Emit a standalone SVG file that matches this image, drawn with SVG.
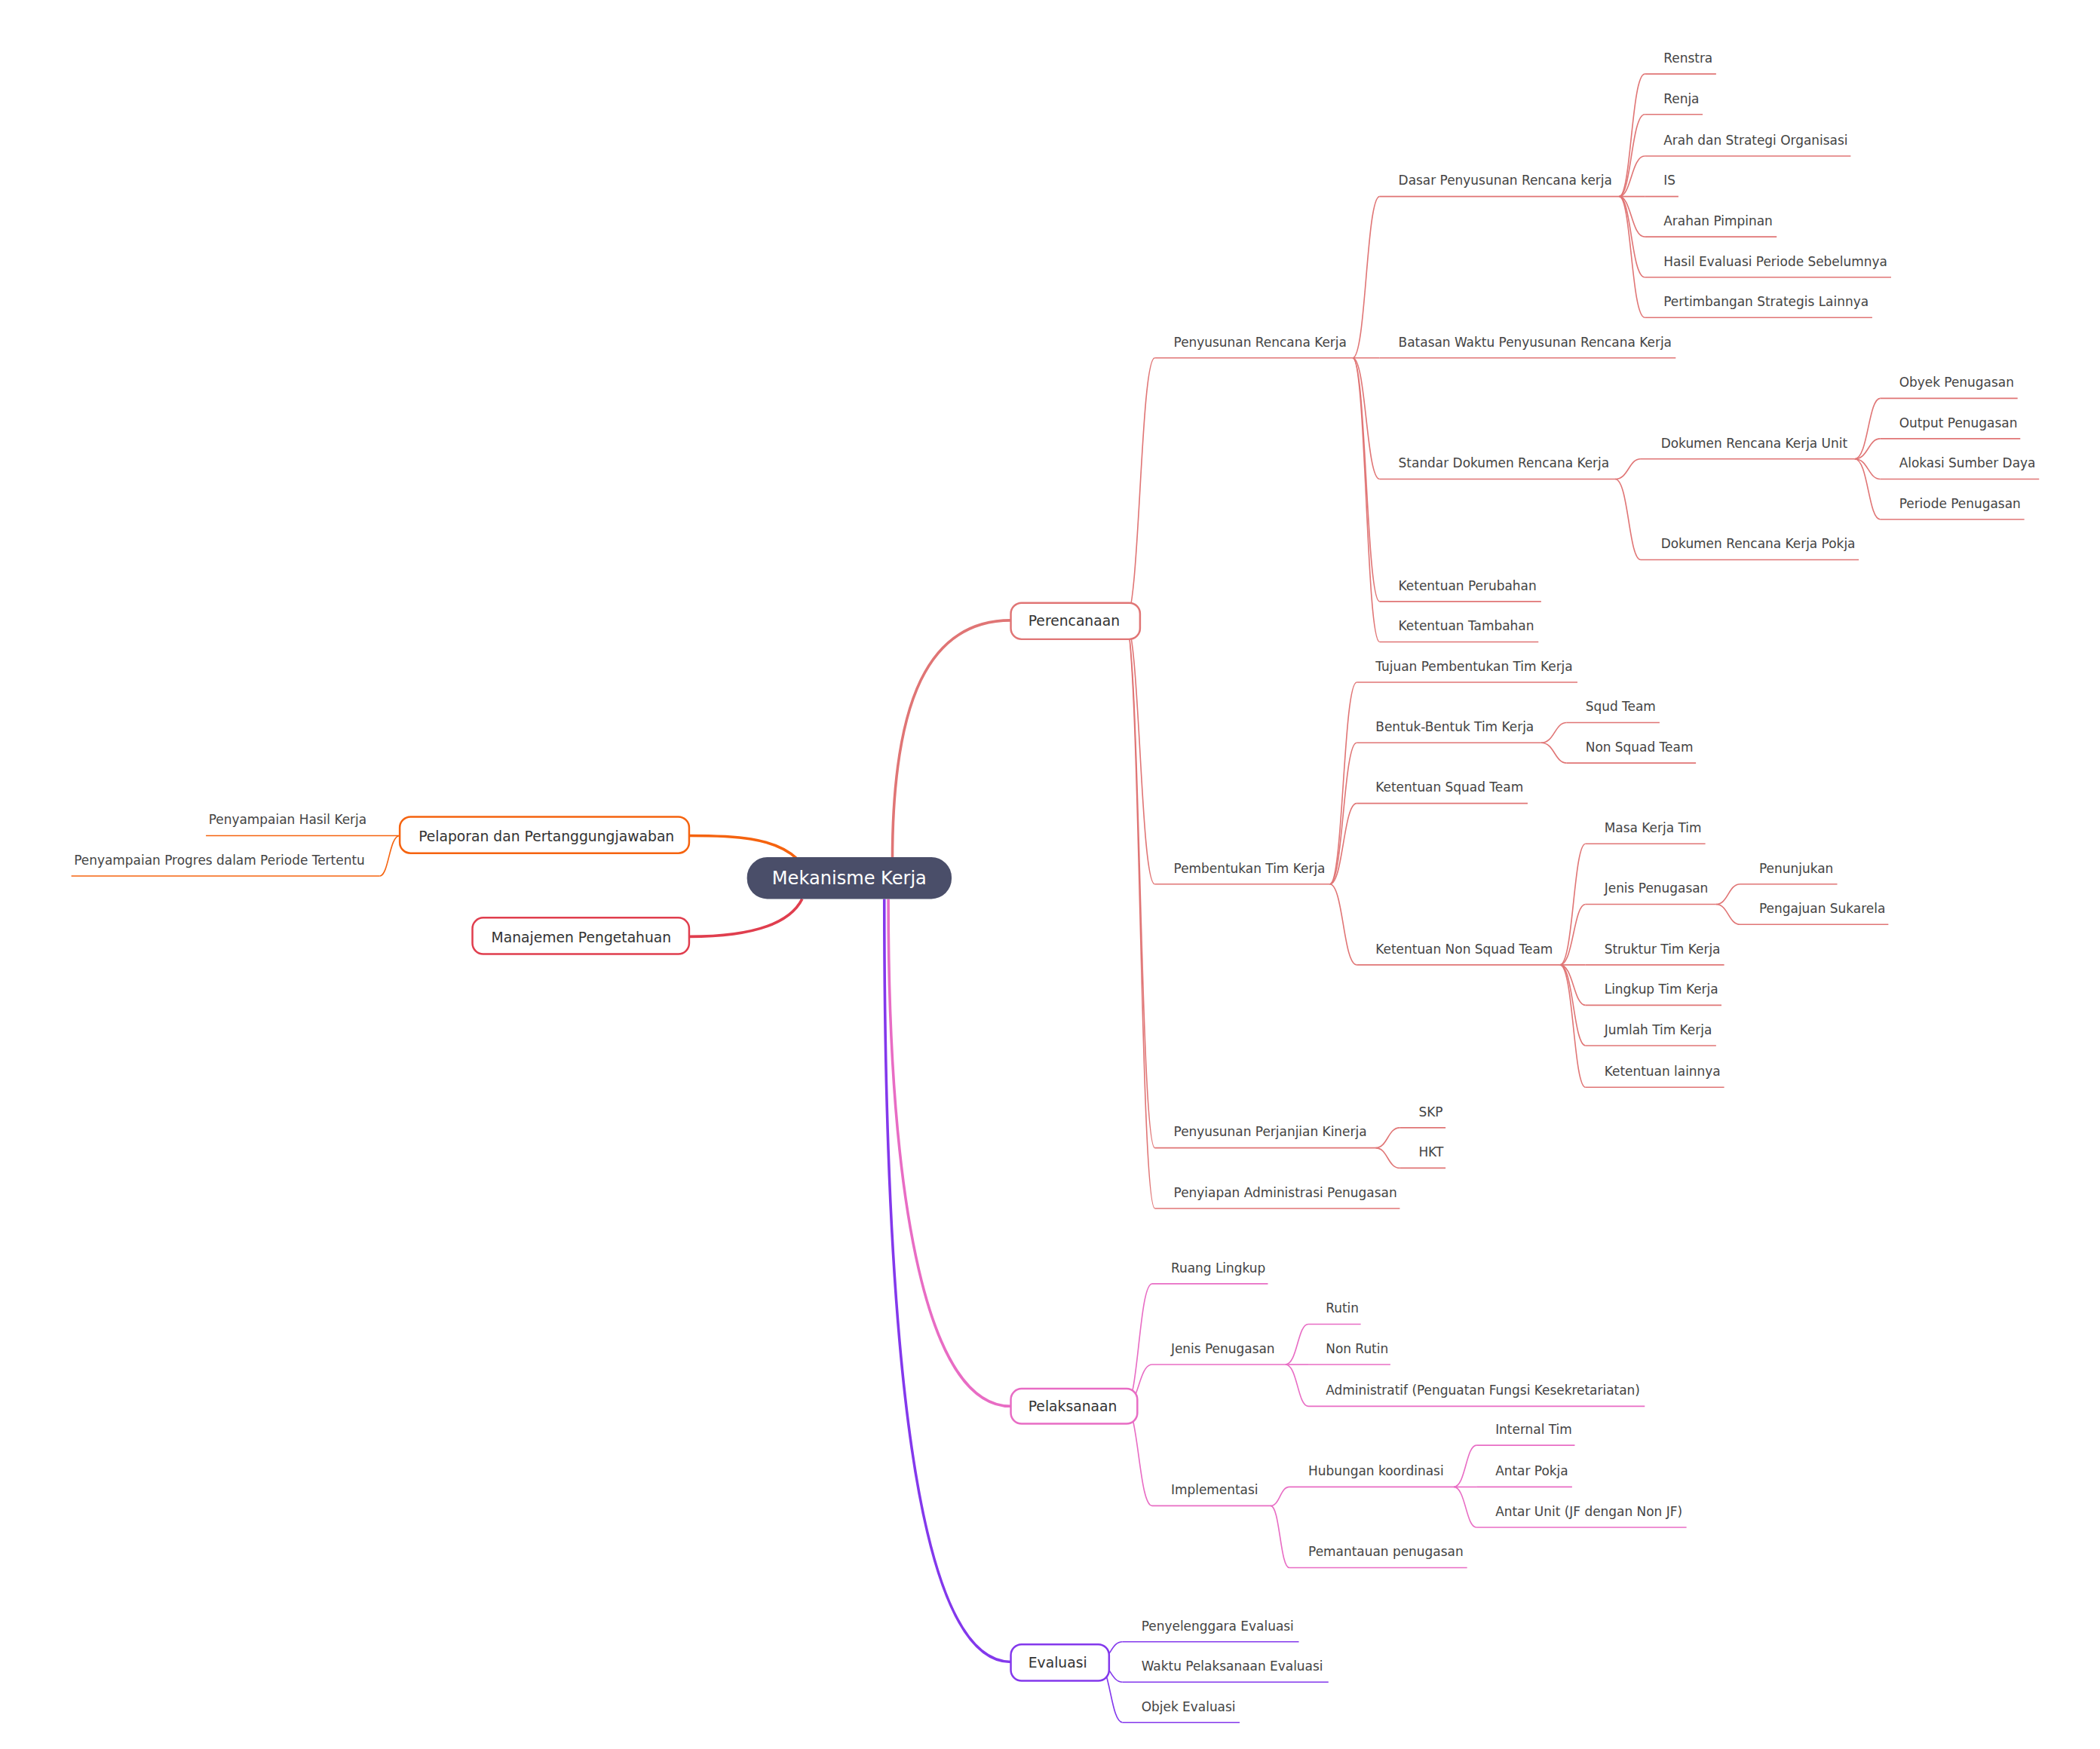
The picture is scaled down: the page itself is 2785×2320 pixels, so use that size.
<svg xmlns="http://www.w3.org/2000/svg" width="2785" height="2320" viewBox="0 0 2785 2320">
<style>
text{font-family:"DejaVu Sans","Liberation Sans",sans-serif;fill:#444;font-size:9.5px}
.nt{font-size:10.5px;fill:#333}
.ct{font-size:13.5px;fill:#fff}
path,line{fill:none}
.p{stroke:#e07575;stroke-width:0.9}
.k{stroke:#e86cc4;stroke-width:0.9}
.v{stroke:#8338ec;stroke-width:0.9}
.o{stroke:#f5630f;stroke-width:0.9}
.P{stroke:#e07575;stroke-width:2}
.K{stroke:#e86cc4;stroke-width:2}
.V{stroke:#8338ec;stroke-width:2}
.O{stroke:#f5630f;stroke-width:2}
.R{stroke:#e03e4e;stroke-width:2}
.nb{fill:#fff;stroke-width:1.4}
</style>
<rect width="2785" height="2320" fill="#fff"/>
<g transform="scale(1.785)">
<g id="connectors">
<path class="P" d="M663,640 C663,520 690,461 751,461"/>
<path class="K" d="M660,668 C660,900 690,1045 751,1045"/>
<path class="V" d="M657,668 C657,1000 680,1235 751,1235"/>
<path class="O" d="M592,638 C575,622 545,621 512,621"/>
<path class="R" d="M596,668 C585,690 550,696 512,696"/>
<path class="p" d="M836,461 C847,461 847,266 858,266"/>
<path class="p" d="M836,461 C847,461 847,657 858,657"/>
<path class="p" d="M836,461 C847,461 847,853 858,853"/>
<path class="p" d="M836,461 C847,461 847,898 858,898"/>
<path class="p" d="M1005,266 C1015,266 1015,146 1025,146"/>
<path class="p" d="M1005,266 L1025,266"/>
<path class="p" d="M1005,266 C1015,266 1015,356 1025,356"/>
<path class="p" d="M1005,266 C1015,266 1015,447 1025,447"/>
<path class="p" d="M1005,266 C1015,266 1015,477 1025,477"/>
<path class="p" d="M1203,146 C1212,146 1212,55 1222,55"/>
<path class="p" d="M1203,146 C1212,146 1212,85 1222,85"/>
<path class="p" d="M1203,146 C1212,146 1212,116 1222,116"/>
<path class="p" d="M1203,146 L1222,146"/>
<path class="p" d="M1203,146 C1212,146 1212,176 1222,176"/>
<path class="p" d="M1203,146 C1212,146 1212,206 1222,206"/>
<path class="p" d="M1203,146 C1212,146 1212,236 1222,236"/>
<path class="p" d="M1200,356 C1210,356 1210,341 1219,341"/>
<path class="p" d="M1200,356 C1210,356 1210,416 1219,416"/>
<path class="p" d="M1378,341 C1388,341 1388,296 1397,296"/>
<path class="p" d="M1378,341 C1388,341 1388,326 1397,326"/>
<path class="p" d="M1378,341 C1388,341 1388,356 1397,356"/>
<path class="p" d="M1378,341 C1388,341 1388,386 1397,386"/>
<path class="p" d="M988,657 C998,657 998,507 1008,507"/>
<path class="p" d="M988,657 C998,657 998,552 1008,552"/>
<path class="p" d="M988,657 C998,657 998,597 1008,597"/>
<path class="p" d="M988,657 C998,657 998,717 1008,717"/>
<path class="p" d="M1145,552 C1155,552 1155,537 1164,537"/>
<path class="p" d="M1145,552 C1155,552 1155,567 1164,567"/>
<path class="p" d="M1159,717 C1169,717 1169,627 1178,627"/>
<path class="p" d="M1159,717 C1169,717 1169,672 1178,672"/>
<path class="p" d="M1159,717 L1178,717"/>
<path class="p" d="M1159,717 C1169,717 1169,747 1178,747"/>
<path class="p" d="M1159,717 C1169,717 1169,777 1178,777"/>
<path class="p" d="M1159,717 C1169,717 1169,808 1178,808"/>
<path class="p" d="M1275,672 C1284,672 1284,657 1293,657"/>
<path class="p" d="M1275,672 C1284,672 1284,687 1293,687"/>
<path class="p" d="M1022,853 C1031,853 1031,838 1040,838"/>
<path class="p" d="M1022,853 C1031,853 1031,868 1040,868"/>
<path class="k" d="M836,1045 C846,1045 846,954 856,954"/>
<path class="k" d="M836,1045 C846,1045 846,1014 856,1014"/>
<path class="k" d="M836,1045 C846,1045 846,1119 856,1119"/>
<path class="k" d="M955,1014 C964,1014 964,984 972,984"/>
<path class="k" d="M955,1014 L972,1014"/>
<path class="k" d="M955,1014 C964,1014 964,1045 972,1045"/>
<path class="k" d="M944,1119 C951,1119 951,1105 958,1105"/>
<path class="k" d="M944,1119 C951,1119 951,1165 958,1165"/>
<path class="k" d="M1080,1105 C1089,1105 1089,1074 1097,1074"/>
<path class="k" d="M1080,1105 L1097,1105"/>
<path class="k" d="M1080,1105 C1089,1105 1089,1135 1097,1135"/>
<path class="v" d="M815,1235 C825,1235 825,1220 834,1220"/>
<path class="v" d="M815,1235 C825,1235 825,1250 834,1250"/>
<path class="v" d="M815,1235 C825,1235 825,1280 834,1280"/>
<path class="o" d="M297,621 C289,621 289,651 282,651"/>
</g>
<g id="root"><rect x="555" y="637" width="152" height="31" rx="15" fill="#4a4e69"/><text class="ct" x="631" y="657" text-anchor="middle">Mekanisme Kerja</text></g>
<g id="perencanaan"><rect class="nb" x="751" y="448" width="96" height="27" rx="8" stroke="#e07575"/><text class="nt" x="764" y="465">Perencanaan</text></g>
<g id="pelaksanaan"><rect class="nb" x="751" y="1032" width="94" height="26" rx="8" stroke="#e86cc4"/><text class="nt" x="764" y="1049">Pelaksanaan</text></g>
<g id="evaluasi"><rect class="nb" x="751" y="1222" width="73" height="27" rx="8" stroke="#8338ec"/><text class="nt" x="764" y="1239">Evaluasi</text></g>
<g id="pelaporan"><rect class="nb" x="297" y="607" width="215" height="27" rx="8" stroke="#f5630f"/><text class="nt" x="311" y="625">Pelaporan dan Pertanggungjawaban</text></g>
<g id="manajemen"><rect class="nb" x="351" y="682" width="161" height="27" rx="8" stroke="#e03e4e"/><text class="nt" x="365" y="700">Manajemen Pengetahuan</text></g>

<g id="n1"><line class="p" x1="858" y1="266" x2="1005" y2="266"/><text x="872" y="257.5">Penyusunan Rencana Kerja</text></g>
<g id="n2"><line class="p" x1="1025" y1="146" x2="1203" y2="146"/><text x="1039" y="137.5">Dasar Penyusunan Rencana kerja</text></g>
<g id="n3"><line class="p" x1="1222" y1="55" x2="1275" y2="55"/><text x="1236" y="46.5">Renstra</text></g>
<g id="n4"><line class="p" x1="1222" y1="85" x2="1265" y2="85"/><text x="1236" y="76.5">Renja</text></g>
<g id="n5"><line class="p" x1="1222" y1="116" x2="1375" y2="116"/><text x="1236" y="107.5">Arah dan Strategi Organisasi</text></g>
<g id="n6"><line class="p" x1="1222" y1="146" x2="1247" y2="146"/><text x="1236" y="137.5">IS</text></g>
<g id="n7"><line class="p" x1="1222" y1="176" x2="1320" y2="176"/><text x="1236" y="167.5">Arahan Pimpinan</text></g>
<g id="n8"><line class="p" x1="1222" y1="206" x2="1405" y2="206"/><text x="1236" y="197.5">Hasil Evaluasi Periode Sebelumnya</text></g>
<g id="n9"><line class="p" x1="1222" y1="236" x2="1391" y2="236"/><text x="1236" y="227.5">Pertimbangan Strategis Lainnya</text></g>
<g id="n10"><line class="p" x1="1025" y1="266" x2="1245" y2="266"/><text x="1039" y="257.5">Batasan Waktu Penyusunan Rencana Kerja</text></g>
<g id="n11"><line class="p" x1="1025" y1="356" x2="1200" y2="356"/><text x="1039" y="347.5">Standar Dokumen Rencana Kerja</text></g>
<g id="n12"><line class="p" x1="1219" y1="341" x2="1378" y2="341"/><text x="1234" y="332.5">Dokumen Rencana Kerja Unit</text></g>
<g id="n13"><line class="p" x1="1397" y1="296" x2="1499" y2="296"/><text x="1411" y="287.5">Obyek Penugasan</text></g>
<g id="n14"><line class="p" x1="1397" y1="326" x2="1501" y2="326"/><text x="1411" y="317.5">Output Penugasan</text></g>
<g id="n15"><line class="p" x1="1397" y1="356" x2="1515" y2="356"/><text x="1411" y="347.5">Alokasi Sumber Daya</text></g>
<g id="n16"><line class="p" x1="1397" y1="386" x2="1504" y2="386"/><text x="1411" y="377.5">Periode Penugasan</text></g>
<g id="n17"><line class="p" x1="1219" y1="416" x2="1381" y2="416"/><text x="1234" y="407.5">Dokumen Rencana Kerja Pokja</text></g>
<g id="n18"><line class="p" x1="1025" y1="447" x2="1145" y2="447"/><text x="1039" y="438.5">Ketentuan Perubahan</text></g>
<g id="n19"><line class="p" x1="1025" y1="477" x2="1143" y2="477"/><text x="1039" y="468.5">Ketentuan Tambahan</text></g>
<g id="n20"><line class="p" x1="858" y1="657" x2="988" y2="657"/><text x="872" y="648.5">Pembentukan Tim Kerja</text></g>
<g id="n21"><line class="p" x1="1008" y1="507" x2="1172" y2="507"/><text x="1022" y="498.5">Tujuan Pembentukan Tim Kerja</text></g>
<g id="n22"><line class="p" x1="1008" y1="552" x2="1145" y2="552"/><text x="1022" y="543.5">Bentuk-Bentuk Tim Kerja</text></g>
<g id="n23"><line class="p" x1="1164" y1="537" x2="1233" y2="537"/><text x="1178" y="528.5">Squd Team</text></g>
<g id="n24"><line class="p" x1="1164" y1="567" x2="1260" y2="567"/><text x="1178" y="558.5">Non Squad Team</text></g>
<g id="n25"><line class="p" x1="1008" y1="597" x2="1135" y2="597"/><text x="1022" y="588.5">Ketentuan Squad Team</text></g>
<g id="n26"><line class="p" x1="1008" y1="717" x2="1159" y2="717"/><text x="1022" y="708.5">Ketentuan Non Squad Team</text></g>
<g id="n27"><line class="p" x1="1178" y1="627" x2="1267" y2="627"/><text x="1192" y="618.5">Masa Kerja Tim</text></g>
<g id="n28"><line class="p" x1="1178" y1="672" x2="1275" y2="672"/><text x="1192" y="663.5">Jenis Penugasan</text></g>
<g id="n29"><line class="p" x1="1293" y1="657" x2="1365" y2="657"/><text x="1307" y="648.5">Penunjukan</text></g>
<g id="n30"><line class="p" x1="1293" y1="687" x2="1403" y2="687"/><text x="1307" y="678.5">Pengajuan Sukarela</text></g>
<g id="n31"><line class="p" x1="1178" y1="717" x2="1281" y2="717"/><text x="1192" y="708.5">Struktur Tim Kerja</text></g>
<g id="n32"><line class="p" x1="1178" y1="747" x2="1279" y2="747"/><text x="1192" y="738.5">Lingkup Tim Kerja</text></g>
<g id="n33"><line class="p" x1="1178" y1="777" x2="1275" y2="777"/><text x="1192" y="768.5">Jumlah Tim Kerja</text></g>
<g id="n34"><line class="p" x1="1178" y1="808" x2="1281" y2="808"/><text x="1192" y="799.5">Ketentuan lainnya</text></g>
<g id="n35"><line class="p" x1="858" y1="853" x2="1022" y2="853"/><text x="872" y="844.5">Penyusunan Perjanjian Kinerja</text></g>
<g id="n36"><line class="p" x1="1040" y1="838" x2="1074" y2="838"/><text x="1054" y="829.5">SKP</text></g>
<g id="n37"><line class="p" x1="1040" y1="868" x2="1074" y2="868"/><text x="1054" y="859.5">HKT</text></g>
<g id="n38"><line class="p" x1="858" y1="898" x2="1040" y2="898"/><text x="872" y="889.5">Penyiapan Administrasi Penugasan</text></g>

<g id="k1"><line class="k" x1="856" y1="954" x2="942" y2="954"/><text x="870" y="945.5">Ruang Lingkup</text></g>
<g id="k2"><line class="k" x1="856" y1="1014" x2="955" y2="1014"/><text x="870" y="1005.5">Jenis Penugasan</text></g>
<g id="k3"><line class="k" x1="972" y1="984" x2="1011" y2="984"/><text x="985" y="975.5">Rutin</text></g>
<g id="k4"><line class="k" x1="972" y1="1014" x2="1033" y2="1014"/><text x="985" y="1005.5">Non Rutin</text></g>
<g id="k5"><line class="k" x1="972" y1="1045" x2="1222" y2="1045"/><text x="985" y="1036.5">Administratif (Penguatan Fungsi Kesekretariatan)</text></g>
<g id="k6"><line class="k" x1="856" y1="1119" x2="944" y2="1119"/><text x="870" y="1110.5">Implementasi</text></g>
<g id="k7"><line class="k" x1="958" y1="1105" x2="1080" y2="1105"/><text x="972" y="1096.5">Hubungan koordinasi</text></g>
<g id="k8"><line class="k" x1="1097" y1="1074" x2="1170" y2="1074"/><text x="1111" y="1065.5">Internal Tim</text></g>
<g id="k9"><line class="k" x1="1097" y1="1105" x2="1168" y2="1105"/><text x="1111" y="1096.5">Antar Pokja</text></g>
<g id="k10"><line class="k" x1="1097" y1="1135" x2="1253" y2="1135"/><text x="1111" y="1126.5">Antar Unit (JF dengan Non JF)</text></g>
<g id="k11"><line class="k" x1="958" y1="1165" x2="1090" y2="1165"/><text x="972" y="1156.5">Pemantauan penugasan</text></g>

<g id="v1"><line class="v" x1="834" y1="1220" x2="965" y2="1220"/><text x="848" y="1211.5">Penyelenggara Evaluasi</text></g>
<g id="v2"><line class="v" x1="834" y1="1250" x2="987" y2="1250"/><text x="848" y="1241.5">Waktu Pelaksanaan Evaluasi</text></g>
<g id="v3"><line class="v" x1="834" y1="1280" x2="921" y2="1280"/><text x="848" y="1271.5">Objek Evaluasi</text></g>

<g id="o1"><line class="o" x1="153" y1="621" x2="297" y2="621"/><text x="155" y="612.5">Penyampaian Hasil Kerja</text></g>
<g id="o2"><line class="o" x1="53" y1="651" x2="282" y2="651"/><text x="55" y="642.5">Penyampaian Progres dalam Periode Tertentu</text></g>
</g>
</svg>
